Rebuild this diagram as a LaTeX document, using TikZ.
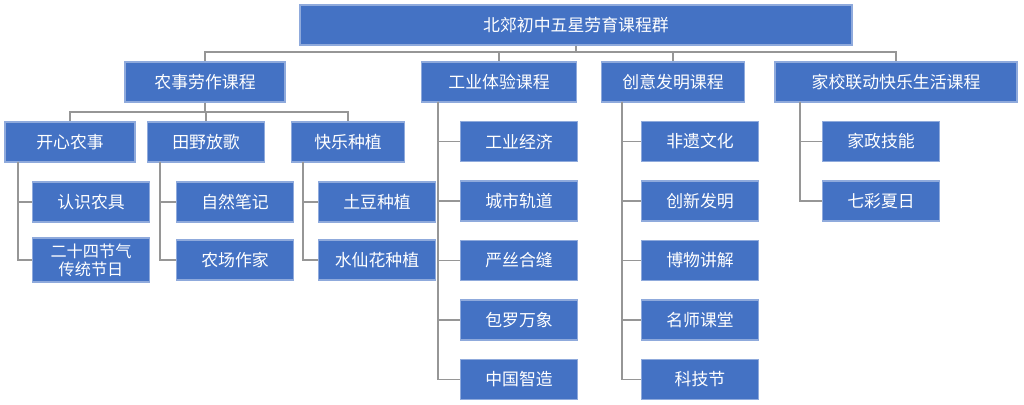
\documentclass[tikz,border=0pt]{standalone}
\usepackage{fontspec}
\setmainfont{Noto Sans CJK SC}
\definecolor{boxblue}{RGB}{68,114,196}
\definecolor{linegray}{RGB}{150,150,150}
\tikzset{
  cbox/.style={draw=boxblue!60!white, line width=0.8pt, fill=boxblue, text=white,
    font=\fontsize{12}{15}\selectfont, inner sep=1pt, align=center},
  link/.style={draw=linegray, line width=0.8pt}
}
\begin{document}
\begin{tikzpicture}[x=0.025cm,y=-0.025cm]
    \useasboundingbox[fill=white] (0,0) rectangle (1024,405);
    % top
    \node[cbox, minimum width=552*0.025cm, minimum height=40*0.025cm] (top) at (576,25) {北郊初中五星劳育课程群};
    % second level
    \node[cbox, minimum width=160*0.025cm, minimum height=40*0.025cm] (nong) at (205,82) {农事劳作课程};
    \node[cbox, minimum width=155*0.025cm, minimum height=40*0.025cm] (gong) at (499,82) {工业体验课程};
    \node[cbox, minimum width=143*0.025cm, minimum height=40*0.025cm] (chuang) at (673,82) {创意发明课程};
    \node[cbox, minimum width=242*0.025cm, minimum height=40*0.025cm] (jia) at (896,82) {家校联动快乐生活课程};
    \coordinate (bus) at (576,52);
    \draw[link] (top.south) -- (bus);
    \foreach \n in {nong,gong,chuang,jia}
        \draw[link] (bus) -| (\n.north);
    % third level under nong
    \node[cbox, minimum width=130*0.025cm, minimum height=40*0.025cm] (kaixin) at (70,142) {开心农事};
    \node[cbox, minimum width=117*0.025cm, minimum height=40*0.025cm] (tianye) at (206,142) {田野放歌};
    \node[cbox, minimum width=113*0.025cm, minimum height=40*0.025cm] (kuaile) at (348,142) {快乐种植};
    \coordinate (bus2) at (205,112);
    \draw[link] (nong.south) -- (bus2);
    \foreach \n in {kaixin,tianye,kuaile}
        \draw[link] (bus2) -| (\n.north);
    % leaves
    \tikzset{leaf/.style={cbox, minimum width=117*0.025cm, minimum height=40*0.025cm}}
    \node[leaf] (renshi) at (91,202) {认识农具};
    \node[leaf, minimum height=44*0.025cm, font=\fontsize{11.5}{13}\selectfont] (jieqi) at (91,260) {二十四节气\\传统节日};
    \node[leaf] (ziran) at (235,202) {自然笔记};
    \node[leaf] (nongchang) at (235,260) {农场作家};
    \node[leaf] (tudou) at (377,202) {土豆种植};
    \node[leaf] (shuixian) at (377,260) {水仙花种植};
    \coordinate (t1) at (18,162);
    \coordinate (t2) at (160,162);
    \coordinate (t3) at (303,162);
    \draw[link] (t1) |- (renshi.west);
    \draw[link] (t1) |- (jieqi.west);
    \draw[link] (t2) |- (ziran.west);
    \draw[link] (t2) |- (nongchang.west);
    \draw[link] (t3) |- (tudou.west);
    \draw[link] (t3) |- (shuixian.west);
    % gong leaves
    \coordinate (t4) at (438,102);
    \foreach \t [count=\i] in {工业经济,城市轨道,严丝合缝,包罗万象,中国智造} {
        \node[leaf] (g\i) at (519,82+\i*59.5) {\t};
        \draw[link] (t4) |- (g\i.west);
    }
    % chuang leaves
    \coordinate (t5) at (622,102);
    \foreach \t [count=\i] in {非遗文化,创新发明,博物讲解,名师课堂,科技节} {
        \node[leaf] (c\i) at (700,82+\i*59.5) {\t};
        \draw[link] (t5) |- (c\i.west);
    }
    % jia leaves
    \coordinate (t6) at (800,102);
    \foreach \t [count=\i] in {家政技能,七彩夏日} {
        \node[leaf] (j\i) at (881,82+\i*59.5) {\t};
        \draw[link] (t6) |- (j\i.west);
    }
\end{tikzpicture}
\end{document}
